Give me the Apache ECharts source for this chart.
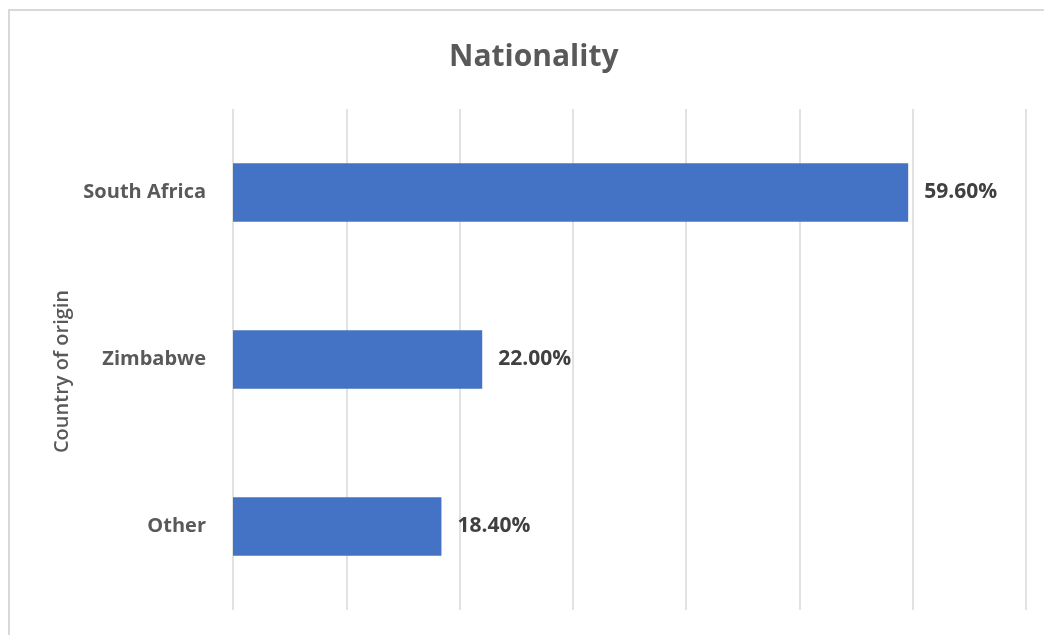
<!DOCTYPE html>
<html>
<head>
<meta charset="utf-8">
<title>Nationality</title>
<script src="https://cdn.jsdelivr.net/npm/echarts@6/dist/echarts.min.js"></script>
<style>
  html, body { margin: 0; padding: 0; background: #ffffff; }
  #chart { width: 1044px; height: 635px; }
</style>
</head>
<body>
<div id="chart"></div>
<script>
// Country of origin and share of respondents (%)
const countries = ['South Africa', 'Zimbabwe', 'Other'];
const shares = [59.6, 22.0, 18.4];
const axisMax = 70;
const axisStep = 10;

const chart = echarts.init(document.getElementById('chart'));

chart.setOption({
  backgroundColor: '#ffffff',
  animation: false,
  title: {
    text: 'Nationality',
    left: 444,
    top: 37,
    textStyle: {
      fontFamily: 'Open Sans',
      fontSize: 30,
      fontWeight: 'bold',
      color: '#595959'
    }
  },
  grid: { left: 233, right: 18, top: 109, bottom: 25 },
  xAxis: {
    type: 'value',
    min: 0,
    max: axisMax,
    interval: axisStep,
    axisLine: { show: false },
    axisTick: { show: false },
    axisLabel: { show: false },
    splitLine: { show: true, lineStyle: { color: '#d9d9d9', width: 1.5 } }
  },
  yAxis: {
    type: 'category',
    data: countries,
    inverse: true,
    axisLine: { show: false },
    axisTick: { show: false },
    axisLabel: {
      margin: 27,
      fontFamily: 'Open Sans',
      fontSize: 20,
      fontWeight: 'bold',
      color: '#595959'
    },
    name: 'Country of origin',
    nameLocation: 'middle',
    nameGap: 161,
    nameTextStyle: {
      fontFamily: 'Open Sans',
      fontSize: 20,
      fontWeight: 600,
      color: '#595959',
      padding: [0, 24, 0, 0]
    }
  },
  series: [{
    type: 'bar',
    data: shares,
    barWidth: '35%',
    itemStyle: { color: '#4472C4' },
    label: {
      show: true,
      position: 'right',
      distance: 16,
      formatter: p => p.value.toFixed(2) + '%',
      fontFamily: 'Open Sans',
      fontSize: 21,
      fontWeight: 'bold',
      color: '#404040'
    }
  }],
  graphic: [
    {
      type: 'line',
      shape: { x1: 8, y1: 10, x2: 1044, y2: 10 },
      style: { stroke: '#d9d9d9', lineWidth: 2 },
      silent: true
    },
    {
      type: 'line',
      shape: { x1: 9, y1: 10, x2: 9, y2: 635 },
      style: { stroke: '#d9d9d9', lineWidth: 2 },
      silent: true
    }
  ]
});
</script>
</body>
</html>
